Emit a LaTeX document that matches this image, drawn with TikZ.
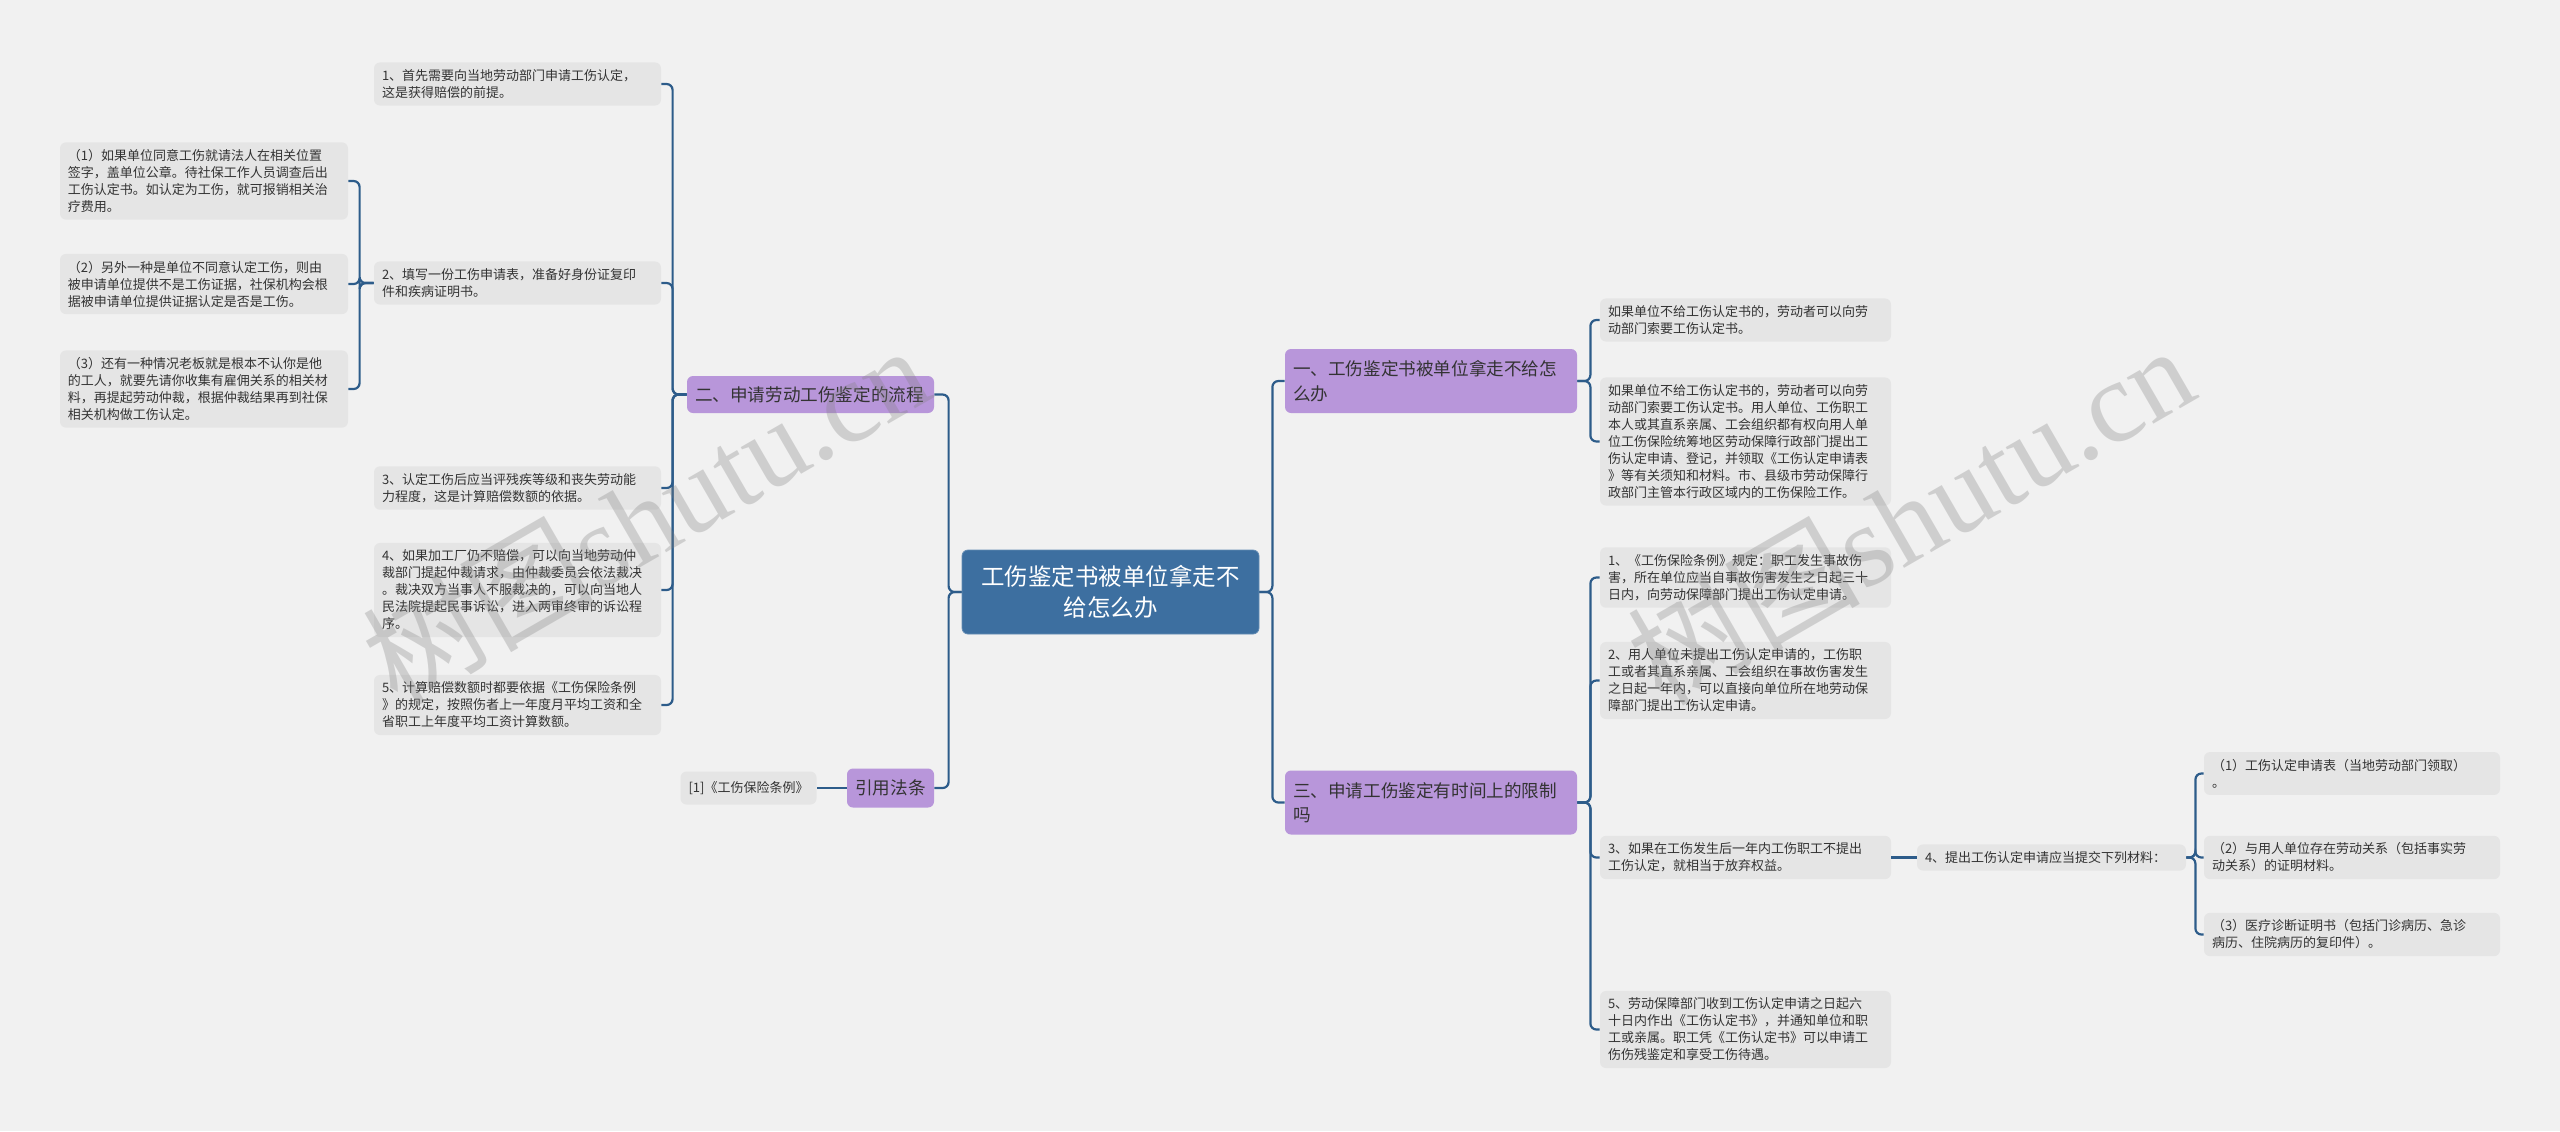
\documentclass[tikz,border=0pt]{standalone}
\usepackage{fontspec}
\newfontfamily\cjk{Noto Sans CJK SC}
\newfontfamily\wmserif{Liberation Serif}
\definecolor{bgcol}{HTML}{F1F1F1}
\definecolor{leafcol}{HTML}{E5E5E5}
\definecolor{purplecol}{HTML}{B896DA}
\definecolor{rootcol}{HTML}{3D6FA0}
\definecolor{linecol}{HTML}{2D5C8A}
\definecolor{textcol}{HTML}{333333}
\begin{document}
\begin{tikzpicture}[x=0.5pt, y=-0.5pt,
    leaf/.style={fill=leafcol, rounded corners=3pt, text=textcol, align=left,
        inner xsep=4pt, inner ysep=3.5pt, font=\cjk\fontsize{6.5}{8.5}\selectfont},
    branch/.style={fill=purplecol, rounded corners=3pt, text=textcol, align=left,
        inner xsep=4pt, inner ysep=3pt, font=\cjk\fontsize{8.8}{12.2}\selectfont},
    rootbox/.style={fill=rootcol, draw=rootcol!80!white, rounded corners=3pt, text=white,
        align=center, minimum width=148.5pt, minimum height=42pt,
        font=\cjk\fontsize{11.75}{15.5}\selectfont},
    conn/.style={draw=linecol, line width=1.1pt, rounded corners=3pt},
    wmark/.style={text=gray, opacity=0.3, rotate=30}]

    % 背景
    \useasboundingbox (0,0) rectangle (2560,1131);
    \fill[bgcol] (0,0) rectangle (2560,1131);

    % 中心主题
    \node[rootbox] (root) at (1110.5,592) {工伤鉴定书被单位拿走不\\给怎么办};

    % 左侧分支
    \node[branch, text width=115.5pt, minimum height=18.5pt] (b2) at (810.5,394.5) {二、申请劳动工伤鉴定的流程};
    \node[branch, align=center, minimum width=43.5pt, minimum height=19.5pt] (bref) at (890.5,788) {引用法条};
    \node[leaf, align=center, minimum width=67.5pt, minimum height=16.5pt] (ref1) at (748.5,788) {[1]《工伤保险条例》};

    % 流程的各个步骤
    \node[leaf, text width=135.5pt] (l1) at (517.5,84) {1、首先需要向当地劳动部门申请工伤认定，\\这是获得赔偿的前提。};
    \node[leaf, text width=135.5pt] (l2) at (517.5,283) {2、填写一份工伤申请表，准备好身份证复印\\件和疾病证明书。};
    \node[leaf, text width=135.5pt] (l3) at (517.5,488) {3、认定工伤后应当评残疾等级和丧失劳动能\\力程度，这是计算赔偿数额的依据。};
    \node[leaf, text width=135.5pt] (l4) at (517.5,590) {4、如果加工厂仍不赔偿，可以向当地劳动仲\\裁部门提起仲裁请求，由仲裁委员会依法裁决\\。裁决双方当事人不服裁决的，可以向当地人\\民法院提起民事诉讼，进入两审终审的诉讼程\\序。};
    \node[leaf, text width=135.5pt] (l5) at (517.5,705) {5、计算赔偿数额时都要依据《工伤保险条例\\》的规定，按照伤者上一年度月平均工资和全\\省职工上年度平均工资计算数额。};

    % 第2步下面的三种情况
    \node[leaf, text width=136pt] (s1) at (204,181) {（1）如果单位同意工伤就请法人在相关位置\\签字，盖单位公章。待社保工作人员调查后出\\工伤认定书。如认定为工伤，就可报销相关治\\疗费用。};
    \node[leaf, text width=136pt] (s2) at (204,284) {（2）另外一种是单位不同意认定工伤，则由\\被申请单位提供不是工伤证据，社保机构会根\\据被申请单位提供证据认定是否是工伤。};
    \node[leaf, text width=136pt] (s3) at (204,389) {（3）还有一种情况老板就是根本不认你是他\\的工人，就要先请你收集有雇佣关系的相关材\\料，再提起劳动仲裁，根据仲裁结果再到社保\\相关机构做工伤认定。};

    % 右侧分支
    \node[branch, text width=138pt, minimum height=32pt] (b1) at (1431,381) {一、工伤鉴定书被单位拿走不给怎\\么办};
    \node[branch, text width=138pt, minimum height=32pt] (b3) at (1431,802.5) {三、申请工伤鉴定有时间上的限制\\吗};

    \node[leaf, text width=137.5pt] (r1a) at (1745.5,320) {如果单位不给工伤认定书的，劳动者可以向劳\\动部门索要工伤认定书。};
    \node[leaf, text width=137.5pt] (r1b) at (1745.5,441.5) {如果单位不给工伤认定书的，劳动者可以向劳\\动部门索要工伤认定书。用人单位、工伤职工\\本人或其直系亲属、工会组织都有权向用人单\\位工伤保险统筹地区劳动保障行政部门提出工\\伤认定申请、登记，并领取《工伤认定申请表\\》等有关须知和材料。市、县级市劳动保障行\\政部门主管本行政区域内的工伤保险工作。};

    \node[leaf, text width=137.5pt] (t1) at (1745.5,577.5) {1、《工伤保险条例》规定：职工发生事故伤\\害，所在单位应当自事故伤害发生之日起三十\\日内，向劳动保障部门提出工伤认定申请。};
    \node[leaf, text width=137.5pt] (t2) at (1745.5,680.5) {2、用人单位未提出工伤认定申请的，工伤职\\工或者其直系亲属、工会组织在事故伤害发生\\之日起一年内，可以直接向单位所在地劳动保\\障部门提出工伤认定申请。};
    \node[leaf, text width=137.5pt] (t3) at (1745.5,857.5) {3、如果在工伤发生后一年内工伤职工不提出\\工伤认定，就相当于放弃权益。};
    \node[leaf, text width=137.5pt] (t5) at (1745.5,1029.5) {5、劳动保障部门收到工伤认定申请之日起六\\十日内作出《工伤认定书》，并通知单位和职\\工或亲属。职工凭《工伤认定书》可以申请工\\伤伤残鉴定和享受工伤待遇。};
    \node[leaf, text width=126.5pt] (t4) at (2051.5,857.5) {4、提出工伤认定申请应当提交下列材料：};

    % 需要提交的材料
    \node[leaf, text width=140pt] (m1) at (2352,773.5) {（1）工伤认定申请表（当地劳动部门领取）\\。};
    \node[leaf, text width=140pt] (m2) at (2352,857.5) {（2）与用人单位存在劳动关系（包括事实劳\\动关系）的证明材料。};
    \node[leaf, text width=140pt] (m3) at (2352,934.5) {（3）医疗诊断证明书（包括门诊病历、急诊\\病历、住院病历的复印件）。};

    % 连线
    \draw[conn] (root.west) -- ++(-13,0) |- (b2.east);
    \draw[conn] (root.west) -- ++(-13,0) |- (bref.east);
    \draw[conn] (bref.west) -- (ref1.east);
    \foreach \n in {l1,l2,l3,l4,l5}
        \draw[conn] (b2.west) -- ++(-14,0) |- (\n.east);
    \foreach \n in {s1,s2,s3}
        \draw[conn] (l2.west) -- ++(-14,0) |- (\n.east);
    \draw[conn] (root.east) -- ++(13,0) |- (b1.west);
    \draw[conn] (root.east) -- ++(13,0) |- (b3.west);
    \foreach \n in {r1a,r1b}
        \draw[conn] (b1.east) -- ++(13,0) |- (\n.west);
    \foreach \n in {t1,t2,t3,t5}
        \draw[conn] (b3.east) -- ++(13,0) |- (\n.west);
    \draw[conn] (t3.east) -- (t4.west);
    \foreach \n in {m1,m2,m3}
        \draw[conn] (t4.east) -- ++(9,0) |- (\n.west);

    % 水印
    \node[wmark] (wm1) at (645,514) {\cjk\fontsize{58}{60}\selectfont 树图\wmserif shutu.cn};
    \node[wmark] (wm2) at (1910,514) {\cjk\fontsize{58}{60}\selectfont 树图\wmserif shutu.cn};
\end{tikzpicture}
\end{document}
